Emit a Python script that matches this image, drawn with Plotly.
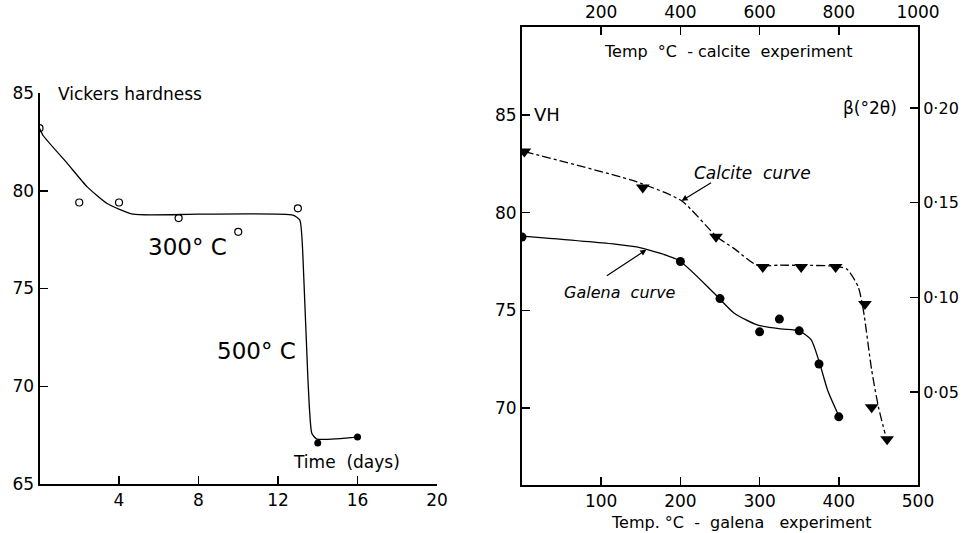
import plotly.graph_objects as go

W, H = 964, 533
FONT = "DejaVu Sans"

# ---------------- Left panel data: Vickers hardness vs time ----------------
days_300 = [0, 2, 4, 7, 10, 13]
vh_300 = [83.2, 79.4, 79.4, 78.6, 77.9, 79.1]
days_500 = [14, 16]
vh_500 = [67.1, 67.4]
fit_days = [0, 0.2, 1.4, 2.4, 3.4, 4.7, 8, 12.75, 13.1, 13.3, 13.5, 13.7, 13.95, 16]
fit_vh = [83.2, 82.8, 81.4, 80.2, 79.35, 78.8, 78.8, 78.75, 78.5, 75.5, 70.5, 67.6, 67.3, 67.4]
left_xticks = [4, 8, 12, 16, 20]
left_yticks = [65, 70, 75, 80, 85]

# ---------------- Right panel data ----------------
galena_t = [0, 200, 250, 300, 325, 350, 375, 400]
galena_vh = [78.75, 77.5, 75.6, 73.9, 74.55, 73.95, 72.25, 69.55]
galena_fit_t = [0, 115, 150, 198, 242, 268, 297, 327, 350, 365, 375, 386, 400]
galena_fit_vh = [78.8, 78.4, 78.2, 77.55, 75.9, 74.85, 74.25, 74.05, 73.95, 73.5, 72.4, 70.9, 69.6]

calcite_t = [6, 305, 490, 608, 705, 792, 866, 883, 922]
calcite_beta = [0.177, 0.158, 0.132, 0.116, 0.116, 0.116, 0.0965, 0.042, 0.025]
calcite_fit_t = [6, 290, 403, 492, 534, 593, 652, 786, 820, 849, 862, 883, 900, 917]
calcite_fit_beta = [0.177, 0.161, 0.151, 0.132, 0.126, 0.117, 0.117, 0.1165, 0.115, 0.1056, 0.0933, 0.0616, 0.0422, 0.028]

galena_xticks = [100, 200, 300, 400, 500]
calcite_xticks = [200, 400, 600, 800, 1000]
vh_ticks = [70, 75, 80, 85]
beta_ticks = [0.05, 0.10, 0.15, 0.20]
beta_labels = ["0·05", "0·10", "0·15", "0·20"]


def px(x):
    return x / W


def py(y):
    return 1 - y / H


fig = go.Figure()

line_style = dict(color="black", width=1.3)

# left panel
fig.add_trace(go.Scatter(x=fit_days, y=fit_vh, mode="lines", line=dict(shape="spline", smoothing=0.5, **line_style),
                         xaxis="x", yaxis="y", hoverinfo="skip"))
fig.add_trace(go.Scatter(x=days_300, y=vh_300, mode="markers",
                         marker=dict(symbol="circle-open", size=7, color="black", line=dict(width=1.2)),
                         xaxis="x", yaxis="y"))
fig.add_trace(go.Scatter(x=days_500, y=vh_500, mode="markers",
                         marker=dict(symbol="circle", size=7, color="black"), xaxis="x", yaxis="y"))

# right panel: galena
fig.add_trace(go.Scatter(x=galena_fit_t, y=galena_fit_vh, mode="lines",
                         line=dict(shape="spline", smoothing=0.6, **line_style), xaxis="x2", yaxis="y2"))
fig.add_trace(go.Scatter(x=galena_t, y=galena_vh, mode="markers",
                         marker=dict(symbol="circle", size=9, color="black"), xaxis="x2", yaxis="y2"))

# right panel: calcite
fig.add_trace(go.Scatter(x=calcite_fit_t, y=calcite_fit_beta, mode="lines",
                         line=dict(shape="spline", smoothing=0.6, color="black", width=1.3, dash="dashdot"),
                         xaxis="x3", yaxis="y3"))
fig.add_trace(go.Scatter(x=calcite_t, y=calcite_beta, mode="markers",
                         marker=dict(symbol="triangle-down", size=12, color="black"), xaxis="x3", yaxis="y3"))

axis_common = dict(showgrid=False, zeroline=False, showline=True, linecolor="black", linewidth=2,
                   ticks="inside", ticklen=8, tickwidth=1.5, tickcolor="black", automargin=False,
                   tickfont=dict(family=FONT, size=17, color="black"))

fig.update_layout(
    width=W, height=H, margin=dict(l=0, r=0, t=0, b=0, autoexpand=False),
    paper_bgcolor="white", plot_bgcolor="rgba(0,0,0,0)", showlegend=False,
    font=dict(family=FONT, color="black"),
    xaxis=dict(domain=[px(39.5), px(437)], range=[0, 20], anchor="y",
               tickvals=left_xticks, **axis_common),
    yaxis=dict(domain=[py(484), py(93)], range=[65, 85], anchor="x",
               tickvals=left_yticks, **axis_common),
    xaxis2=dict(domain=[px(522), px(918)], range=[0, 500], anchor="y2",
                tickvals=galena_xticks, **axis_common),
    yaxis2=dict(domain=[py(485), py(27)], range=[66.06, 89.5], anchor="x2",
                tickvals=vh_ticks, **axis_common),
    xaxis3=dict(range=[0, 1000], overlaying="x2", side="top", anchor="y2",
                tickvals=calcite_xticks, **axis_common),
    yaxis3=dict(range=[0.0009, 0.2428], overlaying="y2", side="right", anchor="x2",
                tickvals=beta_ticks, ticktext=beta_labels, **axis_common),
)
fig.update_layout(yaxis3_tickfont_size=16)

NB = "\u00a0"


def label(text, x, y, size=16, xanchor="left", italic=False):
    fig.add_annotation(xref="paper", yref="paper", x=px(x), y=py(y), text=text, showarrow=False,
                       xanchor=xanchor, yanchor="middle",
                       font=dict(family=FONT, size=size, color="black",
                                 style="italic" if italic else "normal"))


label("Vickers" + NB + "hardness", 56, 94, size=17)
label("300°" + NB + "C", 146, 247, size=23)
label("500°" + NB + "C", 215, 351, size=23)
label("Time" + NB * 2 + "(days)", 291, 462, size=17)

label("VH", 532, 115, size=18)
label("β(°2θ)", 841, 108, size=17)
label("Temp" + NB * 2 + "°C" + NB * 2 + "-" + NB + "calcite" + NB * 2 + "experiment", 602, 51, size=16)
label("Temp." + NB + "°C" + NB * 2 + "-" + NB * 2 + "galena" + NB * 3 + "experiment", 609, 522, size=16)
label("Calcite" + NB * 2 + "curve", 692, 173, size=17, italic=True)
label("Galena" + NB * 2 + "curve", 562, 292, size=16, italic=True)

# arrows pointing at curves
fig.add_annotation(x=403, y=0.151, xref="x3", yref="y3", ax=31, ay=-19, text="", showarrow=True,
                   arrowhead=2, arrowsize=1, arrowwidth=1.2, arrowcolor="black")
fig.add_annotation(x=157, y=78.1, xref="x2", yref="y2", ax=-41, ay=27, text="", showarrow=True,
                   arrowhead=2, arrowsize=1, arrowwidth=1.2, arrowcolor="black")

fig.write_html("out.html", config={"displayModeBar": False, "staticPlot": True},
               post_script="document.body.style.margin='0';")
